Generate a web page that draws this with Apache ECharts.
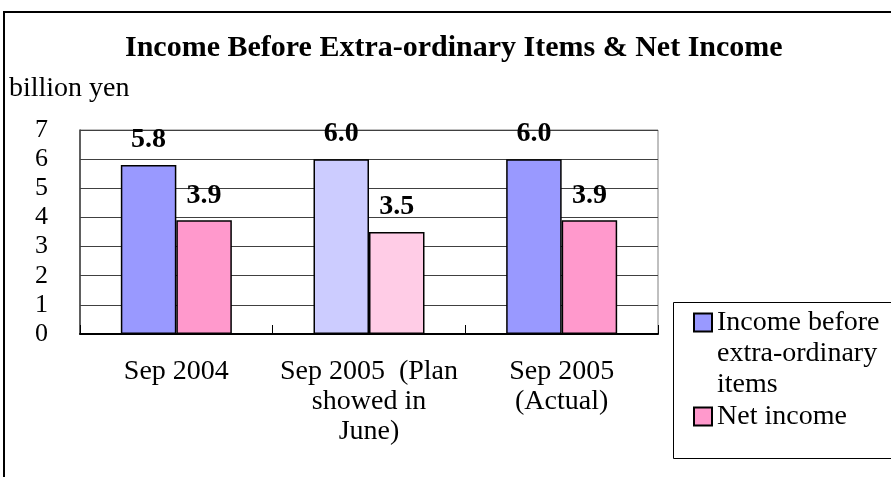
<!DOCTYPE html>
<html>
<head>
<meta charset="utf-8">
<script src="https://cdn.jsdelivr.net/npm/echarts@6/dist/echarts.min.js"></script>
<style>
  html, body { margin: 0; padding: 0; background: #fff; }
  #chart { width: 891px; height: 477px; }
</style>
</head>
<body>
<div id="chart"></div>
<script>
// --- data ---
const categories = ['Sep 2004', 'Sep 2005  (Plan\nshowed in\nJune)', 'Sep 2005\n(Actual)'];
const incomeBeforeExtra = [5.8, 6.0, 6.0];
const netIncome = [3.9, 3.5, 3.9];
const yTicks = [0, 1, 2, 3, 4, 5, 6, 7];
const seriesNames = ['Income before extra-ordinary items', 'Net income'];
const legendLabels = ['Income before\nextra-ordinary\nitems', 'Net income'];

// colours (the plan column is drawn paler)
const COLORS = {
  income: '#9999FF',
  incomePlan: '#CCCCFF',
  net: '#FF99CC',
  netPlan: '#FFCCE6',
  grid: '#404040',
  frame: '#808080'
};
const PLAN_INDEX = 1;
const FONT = 'Liberation Serif';

const chart = echarts.init(document.getElementById('chart'));

const withPlanColor = (values, base, pale) =>
  values.map((v, i) => ({ value: v, itemStyle: { color: i === PLAN_INDEX ? pale : base } }));

const barLabel = {
  show: true,
  position: 'top',
  distance: 11,
  fontFamily: FONT,
  fontSize: 28,
  fontWeight: 'bold',
  color: '#000',
  formatter: (p) => p.value.toFixed(1)
};

const option = {
  backgroundColor: '#fff',
  animation: false,
  textStyle: { fontFamily: FONT, color: '#000' },
  title: [
    {
      text: 'Income Before Extra-ordinary Items & Net Income',
      left: 125,
      top: 33,
      padding: 0,
      textStyle: { fontFamily: FONT, fontSize: 30, fontWeight: 'bold', color: '#000' }
    },
    {
      text: 'billion yen',
      left: 9,
      top: 75,
      padding: 0,
      textStyle: { fontFamily: FONT, fontSize: 28, fontWeight: 'normal', color: '#000' }
    }
  ],
  // outer frame and legend box
  graphic: [
    {
      type: 'rect',
      shape: { x: 4, y: 12, width: 900, height: 500 },
      style: { fill: 'none', stroke: '#000', lineWidth: 2 },
      silent: true
    },
    {
      type: 'rect',
      shape: { x: 673.5, y: 302.5, width: 230, height: 156 },
      style: { fill: 'none', stroke: '#000', lineWidth: 1 },
      silent: true
    }
  ],
  legend: {
    orient: 'vertical',
    left: 693,
    top: 245,
    padding: 0,
    itemGap: 1,
    itemWidth: 18,
    itemHeight: 18,
    icon: 'rect',
    selectedMode: false,
    // two empty lines in front keep the icon level with the first text line
    formatter: (name) => {
      const i = seriesNames.indexOf(name);
      return i === 0 ? '\n\n' + legendLabels[i] : legendLabels[i];
    },
    textStyle: { fontFamily: FONT, fontSize: 28, lineHeight: 31, color: '#000' },
    data: seriesNames
  },
  grid: {
    left: 80,
    right: 233,
    top: 130,
    bottom: 143,
    show: true,
    borderColor: COLORS.frame,
    borderWidth: 1,
    backgroundColor: 'transparent'
  },
  xAxis: {
    type: 'category',
    data: categories,
    axisLine: { lineStyle: { color: '#000', width: 2 } },
    axisTick: { show: true, inside: true, length: 9, lineStyle: { color: '#000', width: 1 } },
    axisLabel: {
      interval: 0,
      margin: 23,
      fontFamily: FONT,
      fontSize: 28,
      lineHeight: 30,
      color: '#000'
    }
  },
  yAxis: {
    type: 'value',
    min: yTicks[0],
    max: yTicks[yTicks.length - 1],
    interval: 1,
    axisLine: { show: true, lineStyle: { color: COLORS.grid, width: 1.5 } },
    axisTick: { show: false },
    splitLine: { lineStyle: { color: COLORS.grid, width: 1 } },
    axisLabel: {
      margin: 32,
      fontFamily: FONT,
      fontSize: 26,
      color: '#000',
      padding: [6, 0, 0, 0]
    }
  },
  series: [
    {
      name: seriesNames[0],
      type: 'bar',
      barWidth: 55.5,
      barGap: '0%',
      data: withPlanColor(incomeBeforeExtra, COLORS.income, COLORS.incomePlan),
      itemStyle: { color: COLORS.income, borderColor: '#000', borderWidth: 1.5 },
      label: barLabel
    },
    {
      name: seriesNames[1],
      type: 'bar',
      barWidth: 55.5,
      barGap: '0%',
      data: withPlanColor(netIncome, COLORS.net, COLORS.netPlan),
      itemStyle: { color: COLORS.net, borderColor: '#000', borderWidth: 1.5 },
      label: barLabel
    }
  ]
};

chart.setOption(option);
</script>
</body>
</html>
